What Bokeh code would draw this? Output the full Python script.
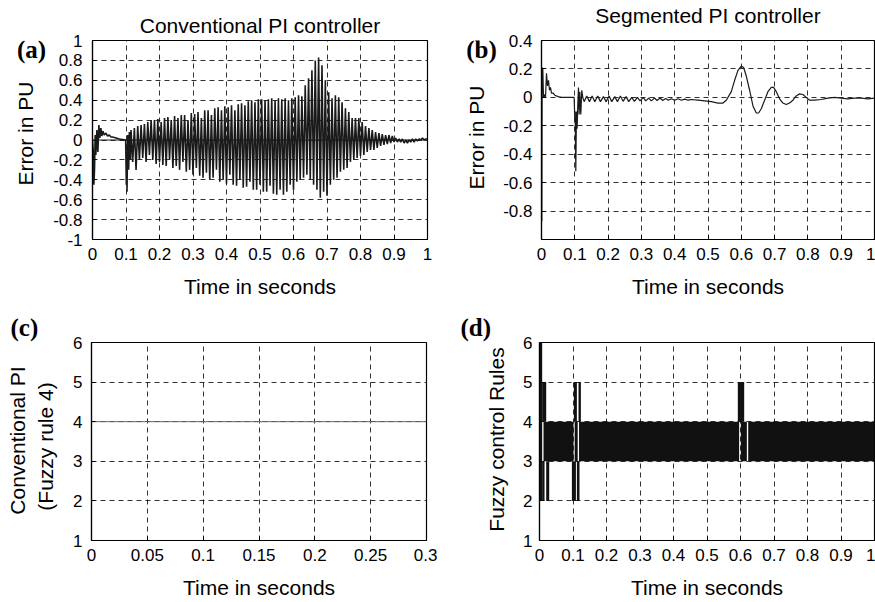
import math
from bokeh.plotting import figure
from bokeh.layouts import column, row
from bokeh.models import Label, FixedTicker, Range1d, Span, Title
from bokeh.embed import file_html
from bokeh.resources import INLINE

SANS = "Liberation Sans"
SERIF = "Liberation Serif"
INK = "#1a1a1a"

# ---------------- Panel (a): conventional PI error ----------------
a_xticks = [0, 0.1, 0.2, 0.3, 0.4, 0.5, 0.6, 0.7, 0.8, 0.9, 1]
a_xlabels = ["0", "0.1", "0.2", "0.3", "0.4", "0.5", "0.6", "0.7", "0.8", "0.9", "1"]
a_yticks = [-1, -0.8, -0.6, -0.4, -0.2, 0, 0.2, 0.4, 0.6, 0.8, 1]
a_ylabels = ["-1", "-0.8", "-0.6", "-0.4", "-0.2", "0", "0.2", "0.4", "0.6", "0.8", "1"]

a_t_ms = [0, 2, 4, 6, 8, 10, 13, 16, 19, 22,
          25, 28, 31, 35, 40, 45, 50, 55, 60, 70,
          80, 90, 99, 101, 102, 103, 105, 108, 110, 113,
          115, 120, 125, 130, 135, 140, 145, 150, 155, 160,
          165, 170, 175, 180, 185, 190, 195, 200, 205, 210,
          215, 220, 225, 230, 235, 240, 245, 250, 255, 260,
          265, 270, 275, 280, 285, 290, 295, 300, 305, 310,
          315, 320, 325, 330, 335, 340, 345, 350, 355, 360,
          365, 370, 375, 380, 385, 390, 395, 400, 405, 410,
          415, 420, 425, 430, 435, 440, 445, 450, 455, 460,
          465, 470, 475, 480, 485, 490, 495, 500, 505, 510,
          515, 520, 525, 530, 535, 540, 545, 550, 555, 560,
          565, 570, 575, 580, 585, 590, 595, 600, 605, 610,
          615, 620, 625, 630, 635, 640, 645, 650, 655, 660,
          665, 670, 675, 680, 685, 690, 695, 700, 705, 710,
          715, 720, 725, 730, 735, 740, 745, 750, 755, 760,
          765, 770, 775, 780, 785, 790, 795, 800, 805, 810,
          815, 820, 825, 830, 835, 840, 845, 850, 855, 860,
          865, 870, 875, 880, 885, 890, 895, 900, 905, 910,
          915, 920, 925, 930, 935, 940, 945, 950, 955, 960,
          965, 970, 975, 980, 985, 990, 995, 1000]
a_err = [0.0, -0.1, -0.45, -0.3, 0.05, -0.15, 0.1, -0.12, 0.15, 0.02,
         0.12, 0.04, 0.09, 0.05, 0.07, 0.04, 0.05, 0.03, 0.03, 0.02,
         0.01, 0.005, 0.0, -0.45, -0.2, -0.52, 0.05, -0.3, 0.08, -0.2,
         0.1, -0.22, 0.12, -0.3, 0.14, -0.2, 0.15, -0.18, 0.16, -0.22,
         0.18, -0.15, 0.2, -0.2, 0.2, -0.24, 0.21, -0.22, 0.18, -0.25,
         0.22, -0.26, 0.23, -0.2, 0.2, -0.28, 0.24, -0.26, 0.22, -0.3,
         0.25, -0.22, 0.25, -0.32, 0.2, -0.3, 0.27, -0.35, 0.26, -0.28,
         0.28, -0.36, 0.22, -0.38, 0.3, -0.33, 0.3, -0.4, 0.25, -0.38,
         0.32, -0.3, 0.33, -0.42, 0.3, -0.4, 0.34, -0.44, 0.33, -0.35,
         0.35, -0.45, 0.3, -0.46, 0.36, -0.4, 0.37, -0.48, 0.35, -0.47,
         0.39, -0.42, 0.4, -0.5, 0.38, -0.5, 0.41, -0.45, 0.41, -0.52,
         0.4, -0.52, 0.41, -0.46, 0.42, -0.54, 0.4, -0.55, 0.42, -0.5,
         0.41, -0.55, 0.42, -0.52, 0.4, -0.45, 0.42, -0.5, 0.43, -0.42,
         0.45, -0.4, 0.44, -0.38, 0.55, -0.35, 0.62, -0.4, 0.7, -0.45,
         0.8, -0.5, 0.83, -0.58, 0.75, -0.52, 0.6, -0.56, 0.48, -0.45,
         0.42, -0.4, 0.45, -0.38, 0.43, -0.32, 0.38, -0.3, 0.32, -0.28,
         0.28, -0.22, 0.22, -0.2, 0.22, -0.18, 0.22, -0.16, 0.18, -0.15,
         0.14, -0.12, 0.12, -0.1, 0.1, -0.1, 0.08, -0.08, 0.07, -0.06,
         0.06, -0.05, 0.05, -0.04, 0.05, -0.03, 0.04, -0.02, 0.02, -0.02,
         0.01, -0.02, 0.01, -0.03, 0.0, -0.03, 0.0, -0.02, 0.01, -0.02,
         0.01, -0.01, 0.01, 0.0, 0.02, 0.0, 0.01, 0.01]

# ---------------- Panel (b): segmented PI error ----------------
b_yticks = [-0.8, -0.6, -0.4, -0.2, 0, 0.2, 0.4]
b_ylabels = ["-0.8", "-0.6", "-0.4", "-0.2", "0", "0.2", "0.4"]
b_t = [0, 0.001, 0.002, 0.004, 0.006, 0.008, 0.012, 0.015, 0.018, 0.021,
       0.024, 0.027, 0.03, 0.035, 0.04, 0.05, 0.06, 0.098, 0.1, 0.101,
       0.103, 0.105, 0.107, 0.109, 0.111, 0.113, 0.115, 0.118, 0.121, 0.124,
       0.128, 0.136, 0.144, 0.152, 0.16, 0.169, 0.177, 0.186, 0.194, 0.203,
       0.211, 0.22, 0.228, 0.237, 0.245, 0.254, 0.262, 0.271, 0.279, 0.288,
       0.296, 0.305, 0.313, 0.322, 0.33, 0.339, 0.347, 0.356, 0.364, 0.373,
       0.381, 0.39, 0.4, 0.41, 0.42, 0.43, 0.44, 0.45, 0.47, 0.49,
       0.51, 0.53, 0.545, 0.555, 0.57, 0.58, 0.59, 0.6, 0.607, 0.615,
       0.625, 0.635, 0.645, 0.652, 0.66, 0.67, 0.68, 0.69, 0.697, 0.705,
       0.715, 0.725, 0.735, 0.745, 0.755, 0.765, 0.775, 0.785, 0.795, 0.805,
       0.82, 0.84, 0.86, 0.88, 0.9, 0.92, 0.94, 0.96, 0.98, 1.0]
b_err = [0, -0.87, 0.21, 0.2, 0.0, 0.02, 0.0, 0.17, 0.08, 0.12,
         0.05, 0.07, 0.03, 0.03, 0.015, 0.005, 0.0, 0.0, -0.15, -0.1,
         -0.52, -0.1, -0.22, -0.05, 0.07, -0.12, 0.04, -0.12, 0.05, 0.0,
         -0.03, 0.01, -0.03, 0.01, -0.03, 0.01, -0.03, 0.005, -0.03, 0.01,
         -0.03, 0.005, -0.03, 0.01, -0.028, 0.005, -0.03, 0.0, -0.028, 0.0,
         -0.025, 0.0, -0.025, -0.005, -0.025, -0.005, -0.022, -0.005, -0.022, -0.008,
         -0.02, -0.01, -0.02, -0.01, -0.02, -0.012, -0.02, -0.015, -0.02, -0.025,
         -0.03, -0.04, -0.04, -0.02, 0.04, 0.12, 0.19, 0.22, 0.21, 0.15,
         0.05, -0.06, -0.11, -0.11, -0.08, -0.02, 0.04, 0.07, 0.07, 0.04,
         -0.01, -0.04, -0.05, -0.04, -0.02, 0.01, 0.025, 0.02, 0.0, -0.02,
         -0.02, -0.015, -0.005, 0.0, -0.005, -0.01, -0.005, -0.005, -0.01, -0.005]

# ---------------- Panel (c): conventional PI rule ----------------
c_xticks = [0, 0.05, 0.1, 0.15, 0.2, 0.25, 0.3]
c_xlabels = ["0", "0.05", "0.1", "0.15", "0.2", "0.25", "0.3"]
rule_ticks = [1, 2, 3, 4, 5, 6]
rule_labels = ["1", "2", "3", "4", "5", "6"]
c_t = [0, 0.3]
c_rule = [4, 4]

# ---------------- Panel (d): fuzzy rule switching bands ----------------
d_t0 = [0.0, 0.008, 0.008, 0.020, 0.012, 0.105, 0.118, 0.601, 0.623, 0.0967, 0.1116, 0.1026, 0.1165, 0.592]
d_t1 = [0.008, 0.015, 0.020, 0.029, 0.1015, 0.114, 0.596, 0.619, 1.0, 0.1087, 0.1194, 0.1116, 0.1235, 0.611]
d_lo = [2, 2, 4, 2, 3, 3, 3, 3, 3, 2, 2, 4, 4, 4]
d_hi = [6, 3, 5, 3, 4, 4, 4, 4, 4, 3, 3, 5, 5, 5]

panel_letters = ["(a)", "(b)", "(c)", "(d)"]
panel_titles = ["Conventional PI controller", "Segmented PI controller"]
y_titles = ["Error in PU", "Error in PU", "Conventional PI", "(Fuzzy rule 4)", "Fuzzy control Rules"]


def style_title(t, standoff):
    t.text_font = SANS
    t.text_font_size = "21px"
    t.text_font_style = "normal"
    t.text_color = "black"
    t.align = "center"
    t.standoff = standoff


def make_fig(w, h, xr, yr, bl, br, bt, bb, xticks, xlabels, yticks, ylabels, y_std):
    p = figure(width=w, height=h, x_range=Range1d(*xr), y_range=Range1d(*yr),
               output_backend="svg", toolbar_location=None, tools="",
               min_border_left=bl, min_border_right=br,
               min_border_top=bt, min_border_bottom=bb)
    p.background_fill_color = "white"
    p.border_fill_color = "white"
    p.outline_line_color = "black"
    p.outline_line_width = 1.2
    p.outline_line_alpha = 1.0
    p.xaxis.ticker = FixedTicker(ticks=xticks)
    p.xaxis.major_label_overrides = dict(zip(xticks, xlabels))
    p.yaxis.ticker = FixedTicker(ticks=yticks)
    p.yaxis.major_label_overrides = dict(zip(yticks, ylabels))
    for ax in (p.xaxis[0], p.yaxis[0]):
        ax.axis_line_color = "black"
        ax.axis_line_width = 1.2
        ax.major_tick_in = 4
        ax.major_tick_out = 0
        ax.major_tick_line_color = "black"
        ax.minor_tick_line_color = None
        ax.major_label_text_font = SANS
        ax.major_label_text_font_size = "17px"
        ax.major_label_text_color = "black"
        ax.axis_label_text_font = SANS
        ax.axis_label_text_font_size = "21px"
        ax.axis_label_text_font_style = "normal"
        ax.axis_label_text_color = "black"
    p.xaxis.axis_label = "Time in seconds"
    p.xaxis.major_label_standoff = 8
    p.xaxis.axis_label_standoff = 12
    p.yaxis.major_label_standoff = y_std
    p.grid.grid_line_color = "black"
    p.grid.grid_line_dash = "5 4"
    p.grid.grid_line_width = 0.9
    p.grid.grid_line_alpha = 0.9
    style_title(p.title, 7)
    return p


def make_strip(x0, w, h, bt, bb, y_top, y_bot):
    # text-only strip; its ranges are expressed in page pixels so that
    # the labels can be placed directly where they sit on the page
    s = figure(width=w, height=h, x_range=Range1d(x0, x0 + w), y_range=Range1d(y_bot, y_top),
               output_backend="svg", toolbar_location=None, tools="",
               x_axis_type=None, y_axis_type=None,
               min_border_left=0, min_border_right=0, min_border_top=bt, min_border_bottom=bb)
    s.outline_line_color = None
    s.background_fill_color = "white"
    s.border_fill_color = "white"
    s.xgrid.visible = False
    s.ygrid.visible = False
    return s


def strip_text(s, x, y, text, font, size, style="normal", angle=0.0):
    s.add_layout(Label(x=x, y=y, text=text, text_font=font, text_font_size=size,
                       text_font_style=style, text_align="center", angle=angle,
                       text_baseline="middle", text_color="black"))


def strip_letter_title(s, text, offset):
    s.title.text = text
    s.title.text_font = SERIF
    s.title.text_font_size = "25px"
    s.title.text_font_style = "bold"
    s.title.text_color = "black"
    s.title.align = "left"
    s.title.offset = offset
    s.title.standoff = 3


UP = math.pi / 2

# (a)
sa = make_strip(0, 50, 300, 40, 61, 40, 239)
strip_text(sa, 31, 49, panel_letters[0], SERIF, "25px", "bold")
strip_text(sa, 25, 133, y_titles[0], SANS, "21px", angle=UP)
pa = make_fig(387, 300, (0, 1), (-1, 1), 41, 10, 40, 61, a_xticks, a_xlabels,
              a_yticks, a_ylabels, 10)
pa.title.text = panel_titles[0]
pa.add_layout(Span(location=0, dimension="width", line_color=INK, line_width=1.2))
pa.line([t / 1000 for t in a_t_ms], a_err, line_color=INK, line_width=1.6)

# (b)
sb = make_strip(437, 63, 300, 40, 61, 40, 239)
strip_text(sb, 481, 49, panel_letters[1], SERIF, "25px", "bold")
strip_text(sb, 476, 137, y_titles[1], SANS, "21px", angle=UP)
pb = make_fig(375, 300, (0, 1), (-1, 0.4), 39, 1, 40, 61, a_xticks, a_xlabels,
              b_yticks, b_ylabels, 9)
spacer = Title(text=" ", text_font_size="1px", standoff=11)
pb.add_layout(spacer, "above")
tb = Title(text=panel_titles[1])
style_title(tb, 0)
pb.add_layout(tb, "above")
pb.line(b_t, b_err, line_color=INK, line_width=1.2)

# (c)
sc = make_strip(0, 58, 302, 42, 62, 342, 540)
strip_letter_title(sc, panel_letters[2], 10)
strip_text(sc, 17, 440, y_titles[2], SANS, "21px", angle=UP)
strip_text(sc, 45, 446, y_titles[3], SANS, "21px", angle=UP)
pc = make_fig(379, 302, (0, 0.3), (1, 6), 33, 11, 42, 62, c_xticks, c_xlabels,
              rule_ticks, rule_labels, 9)
pc.line(c_t, c_rule, line_color="#666666", line_width=1.0)

# (d)
sd = make_strip(437, 75, 302, 42, 62, 342, 540)
strip_letter_title(sd, panel_letters[3], 23)
strip_text(sd, 496, 439, y_titles[4], SANS, "21px", angle=UP)
pd = make_fig(363, 302, (0, 1), (1, 6), 27, 1, 42, 62, a_xticks, a_xlabels,
              rule_ticks, rule_labels, 7)
pd.quad(left=d_t0, right=d_t1, bottom=d_lo, top=d_hi, fill_color="#111111", line_color=None)

layout = column(row(sa, pa, sb, pb), row(sc, pc, sd, pd))
open("out.html", "w").write(file_html(layout, INLINE))
